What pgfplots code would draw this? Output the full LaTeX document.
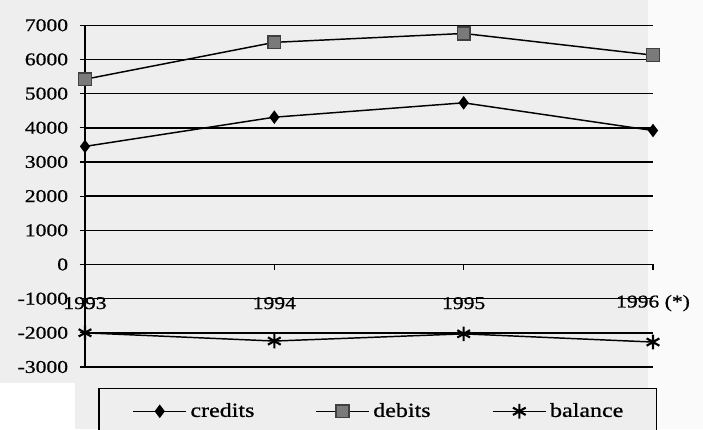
\documentclass[border=0pt]{standalone}
\usepackage{fontspec}
\setmainfont{Liberation Serif}[FakeStretch=1.2, FakeBold=0.8]
\usepackage{pgfplots}
\pgfplotsset{compat=1.18}
\definecolor{bg}{HTML}{EEEEEE}
\definecolor{bgl}{HTML}{FAFAFA}
\definecolor{sqfill}{HTML}{7A7A7A}
\begin{document}
\fontsize{13.5}{16}\selectfont
\begin{tikzpicture}
\useasboundingbox (0,0) rectangle (527.25pt,321.75pt);
\fill[bgl] (0,0) rectangle (527.25pt,321.75pt);
\fill[bg] (0,0) rectangle (486pt,321.75pt);
\fill[white] (0,0) rectangle (56.25pt,34.5pt);
\begin{axis}[
  at={(63.75pt,46.5pt)}, anchor=south west,
  scale only axis, width=426pt, height=256.3pt,
  xmin=0, xmax=3, ymin=-3000, ymax=7000,
  axis x line=middle, axis y line=left,
  axis line style={-, black, line width=1.1pt},
  hide obscured x ticks=false,
  xtick={0,1,2,3}, xticklabels={1993,1994,1995,1996 (*)},
  ytick={-3000,-2000,...,7000},
  ymajorgrids, grid style={black, line width=1.1pt},
  tick align=outside, major tick length=4pt,
  tick style={black, line width=0.9pt},
  xticklabel style={anchor=center, yshift=-25pt},
  yticklabel style={anchor=east, xshift=-4pt},
  /pgf/number format/assume math mode=true,
  /pgf/number format/set thousands separator={},
  legend columns=3,
  legend image code/.code={\draw[mark repeat=2,mark phase=2,#1] plot coordinates {(0pt,0pt) (20pt,0pt) (40pt,0pt)};},
  legend style={at={(axis description cs:0.0235,-0.0605)}, anchor=north west,
    draw=black, line width=1pt, fill=bg, inner xsep=25pt, inner ysep=9pt,
    font=\fontsize{15}{18}\selectfont, column sep=0pt,
    nodes={inner xsep=0pt}},
  clip=false,
]
\addplot[black, line width=1.1pt, mark=diamond*, mark size=4.2pt, mark options={fill=black}]
  coordinates {(0,3455)(1,4310)(2,4730)(3,3920)};
\addlegendentry{\makebox[96pt][l]{\hspace{2.5pt}credits}}
\addplot[black, line width=1.1pt, mark=square*, mark size=4.8pt, mark options={fill=sqfill, draw=darkgray}]
  coordinates {(0,5420)(1,6500)(2,6760)(3,6125)};
\addlegendentry{\makebox[91.5pt][l]{\hspace{2.5pt}debits}}
\addplot[black, line width=1.1pt, mark=asterisk, mark size=5.5pt, mark options={line width=1.6pt}]
  coordinates {(0,-2000)(1,-2240)(2,-2030)(3,-2270)};
\addlegendentry{\hspace{2.5pt}balance}
\end{axis}
\end{tikzpicture}
\end{document}
